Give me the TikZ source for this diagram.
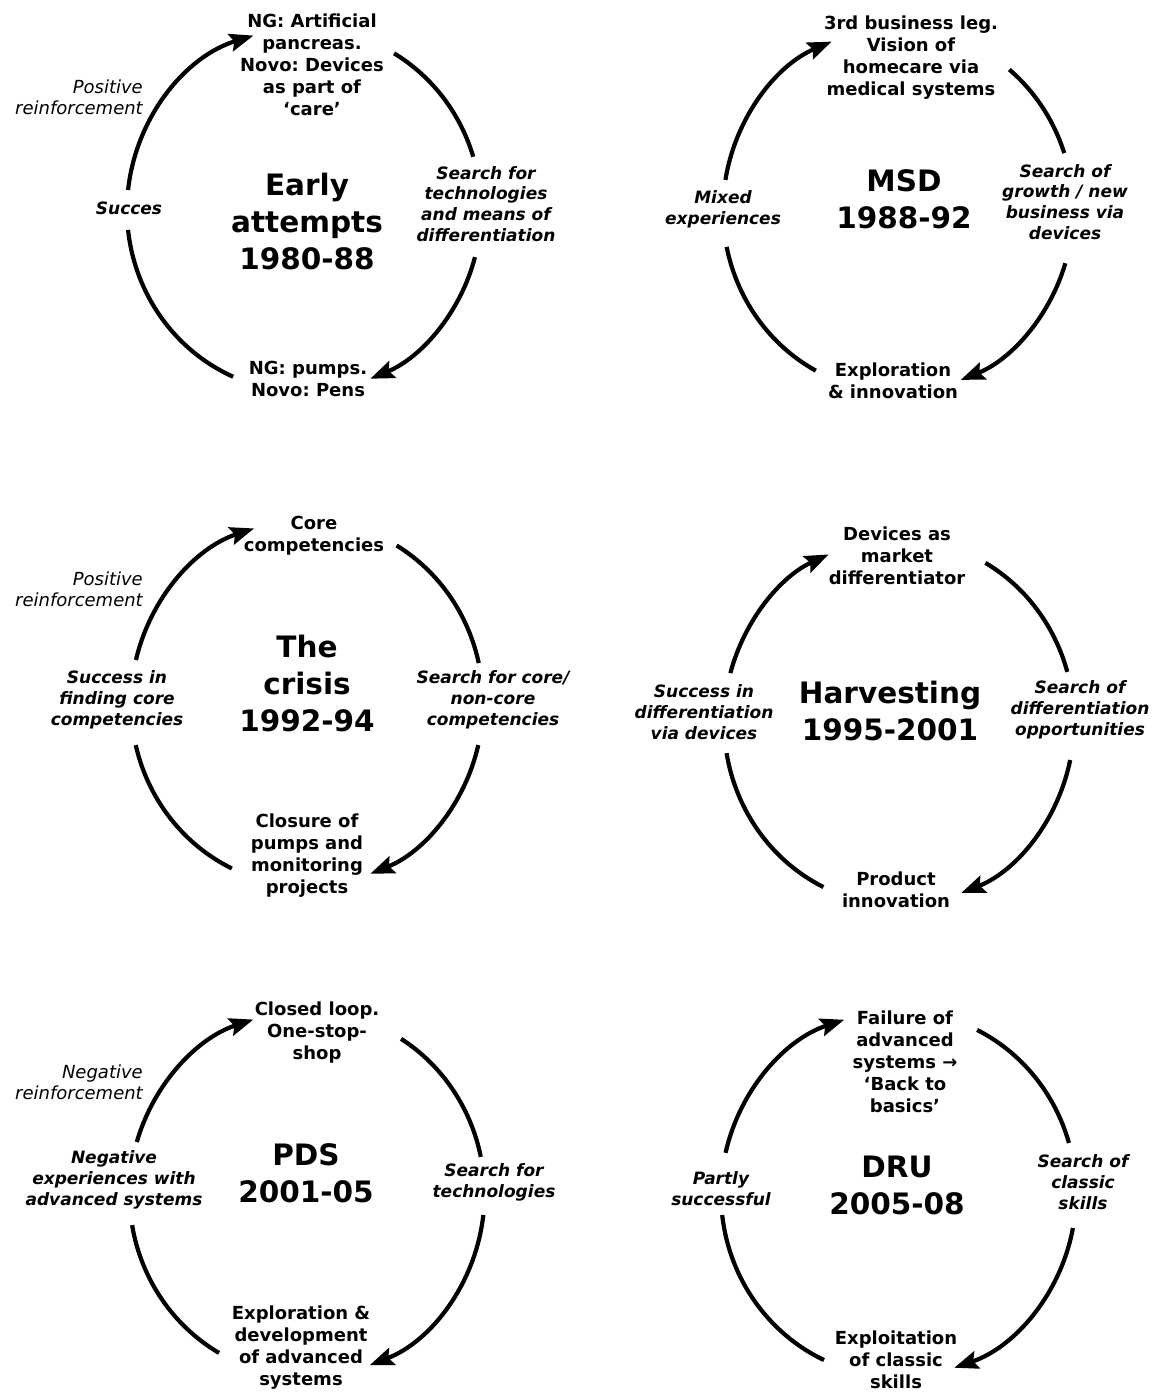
\documentclass[tikz,border=0pt]{standalone}
\usepackage{fontspec}
\setmainfont{DejaVu Sans}
\usetikzlibrary{arrows.meta}
\frenchspacing
\def\crx{177}\def\cry{182}
\newcommand\cyclearcs[9]{%
  \draw[arcarrow] (#1) ++(#2:\crx pt and \cry pt) arc[start angle=#2, end angle=#3, x radius=\crx pt, y radius=\cry pt];
  \draw[arcline]  (#1) ++(#4:\crx pt and \cry pt) arc[start angle=#4, end angle=#5, x radius=\crx pt, y radius=\cry pt];
  \draw[arcarrow] (#1) ++(#6:\crx pt and \cry pt) arc[start angle=#6, end angle=#7, x radius=\crx pt, y radius=\cry pt];
  \draw[arcline]  (#1) ++(#8:\crx pt and \cry pt) arc[start angle=#8, end angle=#9, x radius=\crx pt, y radius=\cry pt];
}
\begin{document}
\begin{tikzpicture}[x=1pt,y=1pt,
  arcline/.style={line width=4.2pt},
  arcarrow/.style={line width=4.2pt, -{Stealth[length=24pt,width=18pt,inset=4pt]}},
  lbl/.style={font=\fontsize{18}{22}\selectfont\bfseries, align=center, inner sep=0pt},
  ilbl/.style={font=\fontsize{17}{20.8}\selectfont\bfseries\itshape, align=center, inner sep=0pt},
  olbl/.style={font=\fontsize{18}{21.3}\selectfont\itshape, align=right, anchor=east, inner sep=0pt},
  ttl/.style={font=\fontsize{29.5}{37}\selectfont\bfseries, align=center, inner sep=0pt}]
\useasboundingbox (0,0) rectangle (1159,1393);
% ---------- Cycle 1 ----------
\coordinate (c1) at (304,1183);
\node[lbl]  (t1) at (312,1328) {NG: Artificial\\pancreas.\\Novo: Devices\\as part of\\‘care’};
\node[ilbl] (r1) at (486,1189) {Search for\\technologies\\and means of\\differentiation};
\node[lbl]  (b1) at (308,1014) {NG: pumps.\\Novo: Pens};
\node[ilbl] (l1) at (129,1185) {Succes};
\node[ttl]  (m1) at (307,1171) {Early\\attempts\\1980-88};
\node[olbl] (o1) at (143,1296) {Positive\\reinforcement};
\def\crx{177}\def\cry{182}
\cyclearcs{c1}{173.7}{106.6}{59.4}{17}{-15}{-68}{-113.6}{-173.7}
% ---------- Cycle 2 ----------
\coordinate (c2) at (898,1183);
\node[lbl]  (t2) at (911,1335) {3rd business leg.\\Vision of\\homecare via\\medical systems};
\node[ilbl] (r2) at (1065,1191) {Search of\\growth / new\\business via\\devices};
\node[lbl]  (b2) at (893,1012) {Exploration\\\& innovation};
\node[ilbl] (l2) at (723,1184) {Mixed\\experiences};
\node[ttl]  (m2) at (904,1194) {MSD\\1988-92};
\def\crx{175}\def\cry{182}
\cyclearcs{c2}{170.5}{112.3}{50.5}{18.2}{-17}{-69}{-118}{-168.3}
% ---------- Cycle 3 ----------
\coordinate (c3) at (307,690);
\node[lbl]  (t3) at (314,857) {Core\\competencies};
\node[ilbl] (r3) at (493,693) {Search for core/\\non-core\\competencies};
\node[lbl]  (b3) at (307,537) {Closure of\\pumps and\\monitoring\\projects};
\node[ilbl] (l3) at (117,693) {Success in\\finding core\\competencies};
\node[ttl]  (m3) at (307,709) {The\\crisis\\1992-94};
\node[olbl] (o3) at (143,804) {Positive\\reinforcement};
\def\crx{176}\def\cry{183}
\cyclearcs{c3}{166.4}{107.5}{59.4}{12.6}{-13.3}{-68.9}{-115.3}{-166.7}
% ---------- Cycle 4 ----------
\coordinate (c4) at (899,671);
\node[lbl]  (t4) at (897,837) {Devices as\\market\\differentiator};
\node[ilbl] (r4) at (1080,683) {Search of\\differentiation\\opportunities};
\node[lbl]  (b4) at (896,503) {Product\\innovation};
\node[ilbl] (l4) at (704,681) {Success in\\differentiation\\via devices};
\node[ttl]  (m4) at (890,682) {Harvesting\\1995-2001};
\def\crx{175}\def\cry{183}
\cyclearcs{c4}{164.5}{113.7}{60.4}{15.9}{-12}{-69.2}{-115.6}{-170.2}
% ---------- Cycle 5 ----------
\coordinate (c5) at (307,199);
\node[lbl]  (t5) at (317,360) {Closed loop.\\One-stop-\\shop};
\node[ilbl] (r5) at (494,211) {Search for\\technologies};
\node[lbl]  (b5) at (301,45) {Exploration \&\\development\\of advanced\\systems};
\node[ilbl] (l5) at (114,213) {Negative\\experiences with\\advanced systems};
\node[ttl]  (m5) at (306,220) {PDS\\2001-05};
\node[olbl] (o5) at (143,311) {Negative\\reinforcement};
\def\crx{177.5}\def\cry{183}
\cyclearcs{c5}{163.5}{107.6}{58}{11.7}{-6.6}{-69.3}{-119.7}{-170.2}
% ---------- Cycle 6 ----------
\coordinate (c6) at (898.5,199);
\node[lbl]  (t6) at (905,331) {Failure of\\advanced\\systems →\\‘Back to\\basics’};
\node[ilbl] (r6) at (1083,211) {Search of\\classic\\skills};
\node[lbl]  (b6) at (896,33) {Exploitation\\of classic\\skills};
\node[ilbl] (l6) at (721,204) {Partly\\successful};
\node[ttl]  (m6) at (897,208) {DRU\\2005-08};
\def\crx{177.5}\def\cry{183}
\cyclearcs{c6}{167}{107.8}{63.7}{16.2}{-10.7}{-71.7}{-114.8}{-173.4}
\end{tikzpicture}
\end{document}
